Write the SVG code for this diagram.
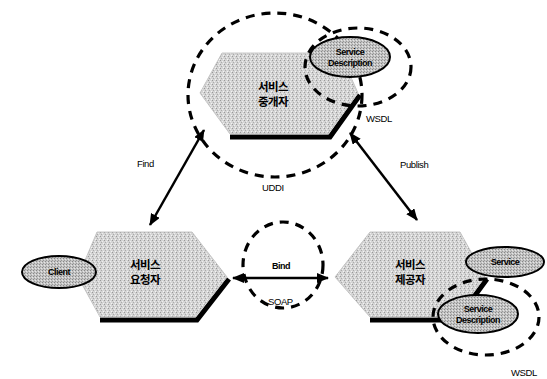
<svg xmlns="http://www.w3.org/2000/svg" width="547" height="379" viewBox="0 0 547 379">
<style>
.hex{fill:url(#stip);stroke:#bbb;stroke-width:0.8}
.shadow{fill:none;stroke:#000;stroke-width:5;stroke-linejoin:miter}
.ell{fill:url(#stip2);stroke:#000;stroke-width:2}
.dash{fill:none;stroke:#000;stroke-width:3.2;stroke-dasharray:9 7}
.ko{font-family:"Noto Sans CJK KR",sans-serif;font-weight:bold;font-size:11.5px;text-anchor:middle;fill:#000;letter-spacing:-0.5px}
.lbl{font-family:"Liberation Sans",Arial,sans-serif;font-size:9.5px;fill:#000;letter-spacing:-0.4px}
.in{font-family:"Liberation Sans",Arial,sans-serif;font-weight:bold;font-size:9px;text-anchor:middle;fill:#000;letter-spacing:-0.5px}
.arr{stroke:#000;stroke-width:2.5;fill:none;marker-start:url(#ah);marker-end:url(#ah)}
</style>
<defs>
<pattern id="stip" width="4" height="4" patternUnits="userSpaceOnUse">
<rect width="4" height="4" fill="#d4d4d4"/>
<rect x="0" y="0" width="1" height="1" fill="#999"/>
<rect x="2" y="1" width="1" height="1" fill="#eee"/>
<rect x="1" y="2" width="1" height="1" fill="#aaa"/>
<rect x="3" y="3" width="1" height="1" fill="#f4f4f4"/>
</pattern>
<pattern id="stip2" width="3" height="3" patternUnits="userSpaceOnUse">
<rect width="3" height="3" fill="#c4c4c4"/>
<rect x="0" y="0" width="1" height="1" fill="#888"/>
<rect x="2" y="1" width="1" height="1" fill="#e6e6e6"/>
<rect x="1" y="2" width="1" height="1" fill="#999"/>
</pattern>
<marker id="ah" viewBox="0 0 12 10" refX="11" refY="5" markerWidth="12" markerHeight="10" markerUnits="userSpaceOnUse" orient="auto-start-reverse">
<path d="M0,0 L12,5 L0,10 Z" fill="#000"/>
</marker>
</defs>
<rect width="547" height="379" fill="#fff"/>

<g id="broker">
<polyline class="shadow" points="360,95 330,137 230,137"/>
<polygon class="hex" points="222,53 340,53 358,93 328,134 230,134 200,93"/>
<text class="ko" x="273" y="91">서비스</text>
<text class="ko" x="273" y="106">중개자</text>
</g>

<g id="requester">
<polyline class="shadow" points="229,279 197,320 100,320"/>
<polygon class="hex" points="97,232 192,232 227,277 195,317 100,317 78,277"/>
<text class="ko" x="145" y="269">서비스</text>
<text class="ko" x="145" y="284">요청자</text>
</g>

<g id="client">
<ellipse class="ell" cx="59" cy="272" rx="37" ry="16"/>
<text class="in" x="59" y="275">Client</text>
</g>

<g id="provider">
<polyline class="shadow" points="487,279 457,320 370,320"/>
<polygon class="hex" points="370,232 460,232 485,277 455,317 370,317 335,277"/>
<text class="ko" x="410" y="269">서비스</text>
<text class="ko" x="410" y="284">제공자</text>
</g>

<g id="uddi">
<ellipse class="dash" cx="275" cy="95" rx="87" ry="82"/>
<text class="lbl" x="262" y="191">UDDI</text>
</g>

<g id="wsdl-top">
<ellipse class="dash" cx="358" cy="67" rx="53" ry="39"/>
<ellipse class="ell" cx="350" cy="57" rx="40" ry="20"/>
<text class="in" x="350" y="55">Service</text>
<text class="in" x="350" y="66">Description</text>
<text class="lbl" x="366" y="122">WSDL</text>
</g>

<g id="soap">
<ellipse class="dash" cx="283" cy="265" rx="40" ry="43"/>
<text class="in" x="281" y="269">Bind</text>
<text class="lbl" x="268" y="305">SOAP</text>
</g>

<g id="wsdl-bottom">
<ellipse class="dash" cx="486" cy="317" rx="53" ry="38"/>
<ellipse class="ell" cx="478" cy="314" rx="40" ry="19"/>
<text class="in" x="478" y="312">Service</text>
<text class="in" x="478" y="323">Description</text>
<text class="lbl" x="511" y="376">WSDL</text>
</g>

<g id="service">
<ellipse class="ell" cx="505" cy="262" rx="39" ry="15"/>
<text class="in" x="505" y="265">Service</text>
</g>

<g id="connectors">
<line class="arr" x1="204" y1="130" x2="150" y2="225"/>
<line class="arr" x1="350" y1="133" x2="417" y2="220"/>
<line class="arr" x1="233" y1="278" x2="328" y2="278"/>
<text class="lbl" x="137" y="167">Find</text>
<text class="lbl" x="400" y="168">Publish</text>
</g>
</svg>
